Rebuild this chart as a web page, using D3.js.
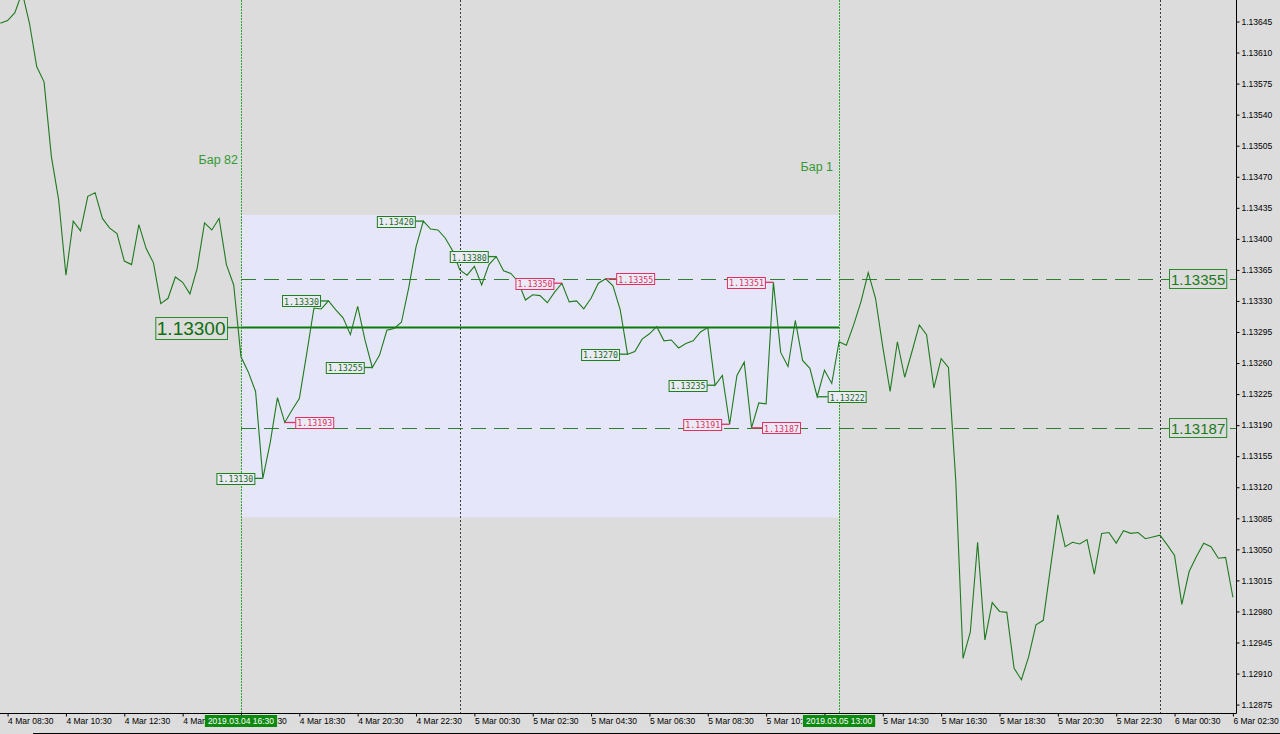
<!DOCTYPE html>
<html><head><meta charset="utf-8">
<script src="https://cdn.jsdelivr.net/npm/d3@7"></script>
<style>html,body{margin:0;padding:0;background:#dcdcdc;overflow:hidden}</style>
</head><body>
<svg id="c" width="1280" height="734"></svg>
<script>
// ---------- DATA ----------
const startTime = "2019-03-04 08:15";   // first M15 bar
const barMinutes = 15;
const closes = [
1.13643,1.13646,1.13655,1.13678,1.13643,1.13594,1.13577,1.13493,1.13444,1.13359,
1.13420,1.13409,1.13448,1.13452,1.13423,1.13412,1.13406,1.13375,1.13371,1.13416,
1.13389,1.13373,1.13327,1.13333,1.13357,1.13351,1.13338,1.13367,1.13418,1.13410,
1.13423,1.13371,1.13348,1.13267,1.13250,1.13228,1.13130,1.13170,1.13221,1.13193,
1.13207,1.13220,1.13270,1.13322,1.13321,1.13330,1.13320,1.13311,1.13292,1.13324,
1.13286,1.13255,1.13269,1.13297,1.13299,1.13306,1.13345,1.13391,1.13420,1.13411,
1.13410,1.13401,1.13387,1.13365,1.13359,1.13369,1.13348,1.13371,1.13380,1.13364,
1.13361,1.13352,1.13331,1.13337,1.13336,1.13328,1.13340,1.13350,1.13329,1.13330,
1.13321,1.13333,1.13350,1.13355,1.13347,1.13320,1.13270,1.13273,1.13287,1.13293,
1.13301,1.13285,1.13286,1.13277,1.13282,1.13285,1.13295,1.13300,1.13235,1.13246,
1.13191,1.13246,1.13261,1.13187,1.13215,1.13214,1.13351,1.13272,1.13256,1.13308,
1.13263,1.13254,1.13222,1.13252,1.13237,1.13284,1.13280,1.13303,1.13329,1.13362,
1.13333,1.13278,1.13228,1.13284,1.13244,1.13273,1.13303,1.13292,1.13232,1.13265,
1.13255,1.13128,1.12927,1.12957,1.13058,1.12948,1.12990,1.12980,1.12979,1.12916,
1.12903,1.12929,1.12965,1.12970,1.13030,1.13089,1.13053,1.13058,1.13056,1.13061,
1.13022,1.13068,1.13069,1.13057,1.13071,1.13068,1.13069,1.13062,1.13064,1.13066,
1.13055,1.13043,1.12988,1.13025,1.13042,1.13057,1.13053,1.13040,1.13041,1.12996
];
const yTicks = [1.12875,1.12910,1.12945,1.12980,1.13015,1.13050,1.13085,1.13120,1.13155,1.13190,
1.13225,1.13260,1.13295,1.13330,1.13365,1.13400,1.13435,1.13470,1.13505,1.13540,1.13575,1.13610,1.13645];
const xTickTimes = ["2019-03-04 08:30","2019-03-04 10:30","2019-03-04 12:30","2019-03-04 14:30",
"2019-03-04 16:30","2019-03-04 18:30","2019-03-04 20:30","2019-03-04 22:30","2019-03-05 00:30",
"2019-03-05 02:30","2019-03-05 04:30","2019-03-05 06:30","2019-03-05 08:30","2019-03-05 10:30",
"2019-03-05 12:30","2019-03-05 14:30","2019-03-05 16:30","2019-03-05 18:30","2019-03-05 20:30",
"2019-03-05 22:30","2019-03-06 00:30","2019-03-06 02:30"];
const rangeStart = "2019-03-04 16:30", rangeEnd = "2019-03-05 13:00";
const rangeStartName = "Бар 82", rangeEndName = "Бар 1";
const boxTop = 1.13427, boxBottom = 1.13086;
const midLevel = 1.13300, upperLevel = 1.13355, lowerLevel = 1.13187;
const daySeparators = ["2019-03-05 00:00","2019-03-06 00:00"];
const labelTimes = ["2019-03-04 17:15","2019-03-04 18:00","2019-03-04 19:30","2019-03-04 21:00",
"2019-03-04 22:45","2019-03-05 01:15","2019-03-05 03:30","2019-03-05 05:00","2019-03-05 05:45",
"2019-03-05 08:45","2019-03-05 09:15","2019-03-05 10:00","2019-03-05 10:45","2019-03-05 12:15"];
const labelValues = [1.13130,1.13193,1.13330,1.13255,1.13420,1.13380,1.13350,1.13355,1.13270,
1.13235,1.13191,1.13187,1.13351,1.13222];
const labelSide = ["L","R","L","L","L","L","L","R","L","L","L","R","L","R"];

// ---------- CHART ----------
const parse = d3.utcParse("%Y-%m-%d %H:%M");
const t0 = parse(startTime);
const series = closes.map((v,i)=>({t:new Date(+t0 + i*barMinutes*60000), v}));
const plotR = 1236, plotB = 713;
const x = d3.scaleUtc().domain([series[0].t, series[series.length-1].t]).range([0.3, 1232.9]);
const y = d3.scaleLinear().domain([1.12875, 1.13645]).range([704.6, 21.5]);
const svg = d3.select("#c");
const FONT = "'Liberation Sans', Arial, sans-serif";
const fmt5 = d3.format(".5f");

svg.append("rect").attr("width",1280).attr("height",734).attr("fill","#dcdcdc");
svg.append("defs").append("clipPath").attr("id","plot")
  .append("rect").attr("x",0).attr("y",0).attr("width",plotR).attr("height",plotB);
const g = svg.append("g").attr("clip-path","url(#plot)");

const xs = x(parse(rangeStart)), xe = x(parse(rangeEnd));
// range box
g.append("rect").attr("x",xs).attr("y",y(boxTop)).attr("width",xe-xs)
  .attr("height",y(boxBottom)-y(boxTop)).attr("fill","#e6e6fa");

// day separators
daySeparators.forEach(d=>{
  const xx = Math.round(x(parse(d)))+0.5;
  g.append("line").attr("x1",xx).attr("x2",xx).attr("y1",0).attr("y2",plotB)
   .attr("stroke","#3a3a3a").attr("stroke-width",1).attr("stroke-dasharray","2,2")
   .attr("shape-rendering","crispEdges");
});
// range start / end verticals
[xs,xe].forEach(xx0=>{
  const xx = Math.round(xx0)+0.5;
  g.append("line").attr("x1",xx).attr("x2",xx).attr("y1",0).attr("y2",plotB)
   .attr("stroke","#2ea82e").attr("stroke-width",1).attr("stroke-dasharray","2,1")
   .attr("shape-rendering","crispEdges");
});

// dashed levels
[upperLevel, lowerLevel].forEach(l=>{
  const yy = Math.round(y(l))+0.5;
  g.append("line").attr("x1",xs).attr("x2",plotR).attr("y1",yy).attr("y2",yy)
   .attr("stroke","#2f7d2f").attr("stroke-width",1).attr("stroke-dasharray","15,8");
});
// mid solid level
{
  const yy = y(midLevel);
  g.append("line").attr("x1",xs).attr("x2",xe).attr("y1",yy).attr("y2",yy)
   .attr("stroke","#0b7a0b").attr("stroke-width",2);
}

// price line
g.append("path").datum(series)
  .attr("d", d3.line().x(d=>x(d.t)).y(d=>y(d.v)))
  .attr("fill","none").attr("stroke","#1f7a1f").attr("stroke-width",1.1);

// swing labels
labelTimes.forEach((ts,i)=>{
  const v = labelValues[i];
  const px = x(parse(ts)), py = y(v);
  const touch = Math.abs(v-upperLevel) < 0.000065 || Math.abs(v-lowerLevel) < 0.000065;
  const col = touch ? "#e0305e" : "#1f7f1f";
  const txtCol = touch ? "#e0305e" : "#1a6a1a";
  const lg = g.append("g");
  const txt = lg.append("text").text(fmt5(v))
    .attr("font-family","'DejaVu Sans Mono', monospace").attr("font-size",8.3)
    .attr("fill",txtCol).attr("dominant-baseline","central");
  const tw = txt.node().getComputedTextLength();
  const bw = tw + 3, bh = 11;
  let bx, tx1, tx2;
  if (labelSide[i]==="L") { bx = px - 8.5 - bw; tx1 = bx + bw; tx2 = px; }
  else { bx = px + 10.5; tx1 = px; tx2 = bx; }
  lg.insert("rect","text").attr("x",bx+0.5).attr("y",Math.round(py-bh/2)+0.5)
    .attr("width",bw).attr("height",bh).attr("fill","#ebebf8").attr("stroke",col).attr("stroke-width",1);
  lg.insert("line","rect").attr("x1",tx1).attr("x2",tx2).attr("y1",py).attr("y2",py)
    .attr("stroke",col).attr("stroke-width",1.3);
  txt.attr("x",bx+2).attr("y",Math.round(py)+1);
});

// big mid label (left)
{
  const yy = y(midLevel);
  const lg = svg.append("g");
  const txt = lg.append("text").text(fmt5(midLevel)).attr("font-family",FONT).attr("font-size",19)
    .attr("fill","#0e6e0e").attr("dominant-baseline","central");
  const tw = txt.node().getComputedTextLength();
  const bw = tw + 3, bh = 22, bx = xs - 14 - bw;
  lg.insert("rect","text").attr("x",bx+0.5).attr("y",Math.round(yy-bh/2)+0.5).attr("width",bw).attr("height",bh)
    .attr("fill","#dcdcdc").attr("stroke","#2a8a2a");
  lg.append("line").attr("x1",bx+bw).attr("x2",xs).attr("y1",yy).attr("y2",yy).attr("stroke","#1f7f1f").attr("stroke-width",1.5);
  txt.attr("x",bx+1.5).attr("y",yy+1);
}
// right level labels
[upperLevel, lowerLevel].forEach(l=>{
  const yy = y(l);
  const lg = svg.append("g");
  const txt = lg.append("text").text(fmt5(l)).attr("font-family",FONT).attr("font-size",15)
    .attr("fill","#1a7a1a").attr("dominant-baseline","central");
  const tw = txt.node().getComputedTextLength();
  const bw = tw + 3, bh = 19, bx = plotR - 10 - bw;
  lg.insert("rect","text").attr("x",Math.round(bx)+0.5).attr("y",Math.round(yy-bh/2)+0.5).attr("width",bw).attr("height",bh)
    .attr("fill","#dcdcdc").attr("stroke","#2a8a2a");
  txt.attr("x",Math.round(bx)+2).attr("y",yy+1);
});

// bar names
svg.append("text").text(rangeStartName).attr("x",xs-3).attr("y",160).attr("text-anchor","end")
  .attr("dominant-baseline","central").attr("font-family",FONT).attr("font-size",12.5).attr("fill","#339933");
svg.append("text").text(rangeEndName).attr("x",xe-6).attr("y",167).attr("text-anchor","end")
  .attr("dominant-baseline","central").attr("font-family",FONT).attr("font-size",12.5).attr("fill","#339933");

// axes
svg.append("line").attr("x1",plotR+0.5).attr("x2",plotR+0.5).attr("y1",0).attr("y2",plotB+0.5).attr("stroke","#000");
svg.append("line").attr("x1",0).attr("x2",plotR+0.5).attr("y1",plotB+0.5).attr("y2",plotB+0.5).attr("stroke","#000");

const yAxis = svg.append("g").attr("transform",`translate(${plotR+0.5},0)`)
  .call(d3.axisRight(y).tickValues(yTicks).tickSize(3).tickSizeOuter(0).tickFormat(fmt5));
yAxis.select(".domain").remove();
yAxis.selectAll("text").attr("x",5).attr("font-family",FONT).attr("font-size",8.5).attr("fill","#000");
yAxis.selectAll("line").attr("stroke","#000");

const xAxis = svg.append("g").attr("transform",`translate(0,${plotB+0.5})`)
  .call(d3.axisBottom(x).tickValues(xTickTimes.map(parse)).tickSize(3).tickSizeOuter(0)
    .tickFormat(d3.utcFormat("%-d %b %H:%M")));
xAxis.select(".domain").remove();
xAxis.selectAll("text").attr("text-anchor","start").attr("x",0).attr("y",4)
  .attr("font-family",FONT).attr("font-size",8.5).attr("fill","#000");
xAxis.selectAll("line").attr("stroke","#000");

// highlighted time labels
const fmtFull = d3.utcFormat("%Y.%m.%d %H:%M");
[rangeStart, rangeEnd].forEach(s=>{
  const xx = x(parse(s));
  const lg = svg.append("g");
  const txt = lg.append("text").text(fmtFull(parse(s))).attr("font-family",FONT).attr("font-size",8.5)
    .attr("fill","#fff").attr("text-anchor","middle").attr("x",xx).attr("y",724);
  const tw = txt.node().getComputedTextLength();
  lg.insert("rect","text").attr("x",xx-tw/2-3).attr("y",715).attr("width",tw+6).attr("height",12).attr("fill","#0a8a0a");
});

// window bottom border
svg.append("line").attr("x1",33).attr("x2",1280).attr("y1",733.5).attr("y2",733.5).attr("stroke","#000");
</script>
</body></html>
